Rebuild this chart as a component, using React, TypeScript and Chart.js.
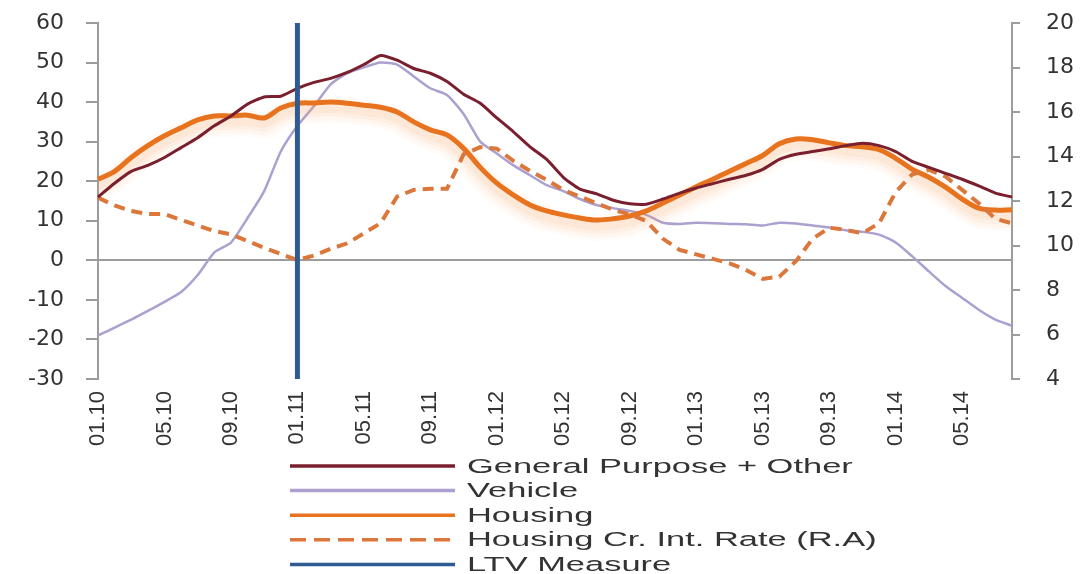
import React, { useEffect, useRef } from 'react';
import { Chart, registerables } from 'chart.js';

Chart.register(...registerables);

// ---------- data ----------
const months = [
  '01.10', '02.10', '03.10', '04.10', '05.10', '06.10', '07.10', '08.10', '09.10', '10.10', '11.10', '12.10',
  '01.11', '02.11', '03.11', '04.11', '05.11', '06.11', '07.11', '08.11', '09.11', '10.11', '11.11', '12.11',
  '01.12', '02.12', '03.12', '04.12', '05.12', '06.12', '07.12', '08.12', '09.12', '10.12', '11.12', '12.12',
  '01.13', '02.13', '03.13', '04.13', '05.13', '06.13', '07.13', '08.13', '09.13', '10.13', '11.13', '12.13',
  '01.14', '02.14', '03.14', '04.14', '05.14', '06.14', '07.14', '08.14',
];
const labelEvery = 4;

const generalPurpose = [
  16, 19.5, 22.5, 24, 26, 28.5, 31, 34, 36.5, 39.5, 41.3, 41.5,
  43.5, 45, 46, 47.5, 49.5, 51.8, 50.6, 48.5, 47.3, 45.2, 42, 39.7,
  36, 32.5, 28.7, 25.5, 21, 18, 16.8, 15.2, 14.3, 14.2, 15.5, 17,
  18.3, 19.4, 20.5, 21.5, 23, 25.5, 26.8, 27.5, 28.2, 29, 29.6, 29,
  27.5, 25, 23.5, 22, 20.5, 18.8, 17, 16,
];
const vehicle = [
  -19, -17, -15, -12.8, -10.5, -8, -3.7, 2, 4.5, 10.7, 17.5, 27.5,
  34, 39, 44.5, 47.3, 48.8, 50, 49.5, 46.5, 43.5, 41.8, 37, 30,
  27, 24, 21.5, 19, 17.5, 15.5, 14, 13.2, 12.5, 11.5, 9.5, 9.2,
  9.5, 9.4, 9.2, 9.1, 8.8, 9.5, 9.3, 8.8, 8.3, 7.6, 7.2, 6.5,
  4.5, 1, -2.8, -6.5, -9.5, -12.5, -15, -16.5,
];
const housing = [
  20.5, 22.5, 26, 29, 31.5, 33.5, 35.5, 36.5, 36.5, 36.7, 36, 38.5,
  39.7, 39.8, 40, 39.7, 39.2, 38.7, 37.5, 35, 33, 31.7, 28.3, 23.5,
  19.5, 16.5, 14, 12.5, 11.5, 10.7, 10.2, 10.5, 11.2, 12.5, 14.5, 16.5,
  18.6, 20.5, 22.5, 24.5, 26.5, 29.5, 30.7, 30.5, 29.7, 29, 28.7, 28,
  25.8, 23, 21, 18.5, 15.5, 13.2, 12.7, 12.8,
];
const housingRate = [
  12.15, 11.8, 11.55, 11.42, 11.42, 11.15, 10.9, 10.65, 10.5, 10.2, 9.9, 9.62,
  9.35, 9.55, 9.85, 10.1, 10.55, 11.0, 12.2, 12.5, 12.55, 12.55, 14.1, 14.42,
  14.35, 13.8, 13.35, 12.95, 12.5, 12.2, 11.9, 11.6, 11.4, 11.1, 10.3, 9.8,
  9.6, 9.4, 9.2, 8.9, 8.5, 8.6, 9.3, 10.3, 10.8, 10.7, 10.55, 11.0,
  12.4, 13.2, 13.4, 13.1, 12.5, 11.9, 11.2, 11.0,
];
const ltvDate = '01.11';
const ltvSpan = [-30, 60];

const leftMin = -30;
const leftMax = 60;
const leftStep = 10;
const rightMin = 4;
const rightMax = 20;
const rightStep = 2;

const seriesNames = [
  'General Purpose + Other',
  'Vehicle',
  'Housing',
  'Housing Cr. Int. Rate (R.A)',
  'LTV Measure',
];

// ---------- styles ----------
const COLORS = {
  gp: '#7A1F2E',
  vehicle: '#ABA0CF',
  housing: '#E8731F',
  rate: '#DB773A',
  ltv: '#2F5B93',
  axis: '#9C9C9C',
  text: '#333333',
};

// soft peach halo under the Housing line, following the line's own pixel points
const glowPlugin = {
  id: 'housingGlow',
  beforeDatasetDraw(chart: any, args: any) {
    const ds = chart.data.datasets[args.index];
    if (!ds || !ds.glow) return;
    const pts = args.meta.data || [];
    const ctx = chart.ctx;
    const area = chart.chartArea;
    ctx.save();
    ctx.beginPath();
    ctx.rect(area.left, area.top, area.right - area.left, area.bottom - area.top + 20);
    ctx.clip();
    ctx.lineJoin = 'round';
    ctx.lineCap = 'round';
    const layers: [number, number, number][] = [
      [26, 0.045, 8],
      [20, 0.06, 8],
      [14, 0.08, 7],
      [9, 0.11, 6],
    ];
    layers.forEach(([w, a, dy]) => {
      ctx.beginPath();
      pts.forEach((p: any, i: number) => {
        if (i === 0) ctx.moveTo(p.x, p.y + dy);
        else ctx.lineTo(p.x, p.y + dy);
      });
      ctx.strokeStyle = `rgba(247,165,100,${a})`;
      ctx.lineWidth = w;
      ctx.stroke();
    });
    ctx.restore();
  },
};

const legendPlugin = {
  id: 'stackedLegend',
  afterDraw(chart: any) {
    const ctx = chart.ctx;
    const order = [0, 1, 2, 3, 4];
    const lineX0 = 290;
    const lineX1 = 455;
    const textX = 467;
    const rowY0 = 466;
    const rowDy = 24.6;
    const stretch = 1.68;
    ctx.save();
    ctx.font = '20.5px "Liberation Sans", Arial, sans-serif';
    ctx.textBaseline = 'middle';
    ctx.textAlign = 'left';
    order.forEach((di, i) => {
      const ds = chart.data.datasets[di];
      const y = rowY0 + i * rowDy;
      ctx.beginPath();
      ctx.setLineDash(ds.legendDash || []);
      ctx.strokeStyle = ds.borderColor;
      ctx.lineWidth = 3.5;
      ctx.lineCap = 'butt';
      ctx.moveTo(lineX0, y);
      ctx.lineTo(lineX1, y);
      ctx.stroke();
      ctx.setLineDash([]);
      ctx.save();
      ctx.translate(textX, y + 1);
      ctx.scale(stretch, 1);
      ctx.fillStyle = COLORS.text;
      ctx.fillText(ds.label, 0, 0);
      ctx.restore();
    });
    ctx.restore();
  },
};

export default function App() {
  const canvasRef = useRef<HTMLCanvasElement | null>(null);

  useEffect(() => {
    if (!canvasRef.current) return;
    const chart = new Chart(canvasRef.current, {
      type: 'line',
      data: {
        labels: months,
        datasets: [
          {
            label: seriesNames[0],
            data: generalPurpose,
            borderColor: COLORS.gp,
            borderWidth: 3,
            pointRadius: 0,
            tension: 0.2,
            yAxisID: 'y',
            order: 1,
          },
          {
            label: seriesNames[1],
            data: vehicle,
            borderColor: COLORS.vehicle,
            borderWidth: 2.5,
            pointRadius: 0,
            tension: 0.2,
            yAxisID: 'y',
            order: 4,
          },
          {
            label: seriesNames[2],
            data: housing,
            borderColor: COLORS.housing,
            borderWidth: 5,
            pointRadius: 0,
            tension: 0.35,
            yAxisID: 'y',
            order: 3,
            glow: true,
          } as any,
          {
            label: seriesNames[3],
            data: housingRate,
            borderColor: COLORS.rate,
            borderWidth: 4,
            borderDash: [11, 7],
            legendDash: [16, 8],
            pointRadius: 0,
            tension: 0,
            yAxisID: 'y1',
            order: 2,
          } as any,
          {
            label: seriesNames[4],
            data: [
              { x: ltvDate, y: ltvSpan[0] },
              { x: ltvDate, y: ltvSpan[1] },
            ],
            borderColor: COLORS.ltv,
            borderWidth: 5,
            pointRadius: 0,
            yAxisID: 'y',
            order: 0,
            clip: false,
          } as any,
        ],
      },
      options: {
        responsive: false,
        animation: false,
        devicePixelRatio: 1,
        layout: { padding: { top: 23, left: 0, right: 0, bottom: 0 } },
        plugins: {
          legend: { display: false },
          tooltip: { enabled: false },
        },
        scales: {
          x: {
            type: 'category',
            grid: { display: false, drawTicks: false },
            border: { display: false },
            ticks: {
              autoSkip: false,
              maxRotation: 90,
              minRotation: 90,
              padding: 12,
              color: COLORS.text,
              font: { family: '"Liberation Sans", Arial, sans-serif', size: 22 },
              callback: (_v: any, i: number) => (i % labelEvery === 0 ? months[i] : ''),
            },
            afterFit: (s: any) => {
              s.height = 195;
            },
          },
          y: {
            position: 'left',
            min: leftMin,
            max: leftMax,
            grid: {
              color: (c: any) => (c.tick && c.tick.value === 0 ? COLORS.axis : 'rgba(0,0,0,0)'),
              lineWidth: 2,
              tickColor: COLORS.axis,
              tickLength: 12,
              drawTicks: true,
            },
            border: { display: true, color: COLORS.axis, width: 2 },
            ticks: {
              stepSize: leftStep,
              padding: 22,
              color: COLORS.text,
              font: { family: '"DejaVu Sans", sans-serif', size: 22 },
            },
            afterFit: (s: any) => {
              s.width = 98;
              s.paddingTop = 8;
              s.paddingBottom = 8;
            },
          },
          y1: {
            position: 'right',
            min: rightMin,
            max: rightMax,
            grid: {
              drawOnChartArea: false,
              color: COLORS.axis,
              tickColor: COLORS.axis,
              lineWidth: 2,
              tickLength: 8,
            },
            border: { display: true, color: COLORS.axis, width: 2 },
            ticks: {
              stepSize: rightStep,
              padding: 26,
              color: COLORS.text,
              font: { family: '"DejaVu Sans", sans-serif', size: 22 },
            },
            afterFit: (s: any) => {
              s.width = 79;
              s.paddingTop = 8;
              s.paddingBottom = 8;
            },
          },
        },
      } as any,
      plugins: [glowPlugin, legendPlugin],
    });
    return () => chart.destroy();
  }, []);

  return (
    <div style={{ position: 'absolute', left: 0, top: 0, width: 1091, height: 574, background: '#fff' }}>
      <canvas ref={canvasRef} width={1091} height={574} style={{ display: 'block' }} />
    </div>
  );
}
